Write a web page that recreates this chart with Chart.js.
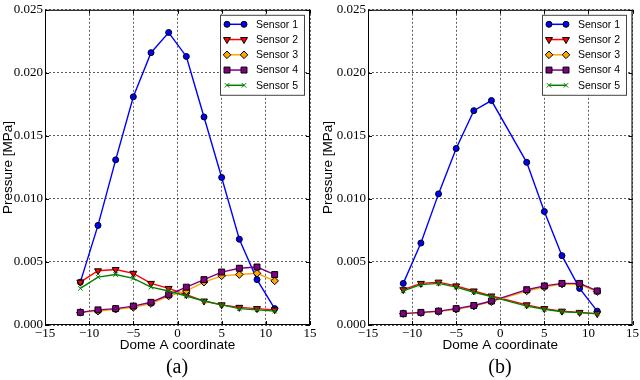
<!DOCTYPE html>
<html>
<head>
<meta charset="utf-8">
<script src="https://cdn.jsdelivr.net/npm/chart.js@4.4.0/dist/chart.umd.min.js"></script>
<style>
  body { margin: 0; background: #fff; width: 640px; height: 380px; position: relative; overflow: hidden; }
  canvas { position: absolute; top: 0; }
  .cap { position: absolute; top: 354px; width: 100px; text-align: center; font: 20px "Liberation Serif", serif; line-height: 24px; color: #000; }
</style>
</head>
<body>
<canvas id="chartA" width="320" height="360" style="left:0"></canvas>
<canvas id="chartB" width="320" height="360" style="left:320px"></canvas>
<div class="cap" style="left:127px">(a)</div>
<div class="cap" style="left:450px">(b)</div>
<script>
// data
const sensorNames = ['Sensor 1', 'Sensor 2', 'Sensor 3', 'Sensor 4', 'Sensor 5'];
const xTicks = [-15, -10, -5, 0, 5, 10, 15];
const yTicks = [0, 0.005, 0.01, 0.015, 0.02, 0.025];

const xA = [-11, -9, -7, -5, -3, -1, 1, 3, 5, 7, 9, 11];
const a1 = [0.0034, 0.0079, 0.0131, 0.0181, 0.0216, 0.0232, 0.0213, 0.0165, 0.0117, 0.0068, 0.0036, 0.0013];
const a2 = [0.0034, 0.0043, 0.0044, 0.0041, 0.0033, 0.0029, 0.0024, 0.0019, 0.0016, 0.0014, 0.0013, 0.0012];
const a3 = [0.0010, 0.0011, 0.00125, 0.0014, 0.0017, 0.0023, 0.0027, 0.0034, 0.0039, 0.0040, 0.0041, 0.0035];
const a4 = [0.0010, 0.0012, 0.0013, 0.0015, 0.0018, 0.0024, 0.0030, 0.0036, 0.0042, 0.0045, 0.0046, 0.0040];
const a5 = [0.0029, 0.0038, 0.0040, 0.0037, 0.0030, 0.0027, 0.0023, 0.0019, 0.0016, 0.0013, 0.0012, 0.0011];

const xB = [-11, -9, -7, -5, -3, -1, 3, 5, 7, 9, 11];
const b1 = [0.0033, 0.0065, 0.0104, 0.0140, 0.0170, 0.0178, 0.0129, 0.0090, 0.0055, 0.0029, 0.0011];
const b2 = [0.0028, 0.0033, 0.0034, 0.0031, 0.0027, 0.0023, 0.0016, 0.0013, 0.0011, 0.0010, 0.0009];
const b3 = [0.0009, 0.00097, 0.00107, 0.00125, 0.0015, 0.00185, 0.0027, 0.0030, 0.00325, 0.0032, 0.00265];
const b4 = [0.0009, 0.0010, 0.0011, 0.0013, 0.00155, 0.0019, 0.0028, 0.0031, 0.0033, 0.0033, 0.0027];
const b5 = [0.0027, 0.0032, 0.0033, 0.0030, 0.0026, 0.00225, 0.0015, 0.00125, 0.00105, 0.00098, 0.00088];

const styles = [
  { color: '#0000ff', point: 'circle', rot: 0, r: 3 },
  { color: '#ff0000', point: 'triangle', rot: 180, r: 4 },
  { color: '#ffa500', point: 'rectRot', rot: 0, r: 3.8 },
  { color: '#800080', point: 'rect', rot: 0, r: 4.2 },
  { color: '#008000', point: 'crossRot', rot: 0, r: 3.2 }
];

function drawMarker(ctx, s, x, y) {
  const r = s.r;
  ctx.save();
  ctx.fillStyle = s.color;
  ctx.strokeStyle = s.point === 'crossRot' ? s.color : '#000';
  ctx.lineWidth = 1;
  ctx.beginPath();
  if (s.point === 'circle') {
    ctx.arc(x, y, r, 0, Math.PI * 2);
  } else if (s.point === 'triangle') {
    ctx.moveTo(x - r * 0.87, y - r * 0.5);
    ctx.lineTo(x + r * 0.87, y - r * 0.5);
    ctx.lineTo(x, y + r);
    ctx.closePath();
  } else if (s.point === 'rectRot') {
    ctx.moveTo(x, y - r); ctx.lineTo(x + r, y); ctx.lineTo(x, y + r); ctx.lineTo(x - r, y);
    ctx.closePath();
  } else if (s.point === 'rect') {
    const h = r * Math.SQRT1_2;
    ctx.rect(x - h, y - h, 2 * h, 2 * h);
  } else {
    const h = r * Math.SQRT1_2;
    ctx.moveTo(x - h, y - h); ctx.lineTo(x + h, y + h);
    ctx.moveTo(x + h, y - h); ctx.lineTo(x - h, y + h);
    ctx.stroke();
    ctx.restore();
    return;
  }
  ctx.fill();
  ctx.stroke();
  ctx.restore();
}

// box around the axes with inward ticks, like matplotlib
const framePlugin = {
  id: 'frame',
  afterDatasetsDraw(chart) {
    const ctx = chart.ctx;
    const { left, top, right, bottom } = chart.chartArea;
    ctx.save();
    ctx.strokeStyle = '#000';
    ctx.lineWidth = 1;
    ctx.strokeRect(left + 0.5, top + 0.5, right - left - 1, bottom - top - 1);
    ctx.beginPath();
    xTicks.forEach(v => {
      const px = Math.round(chart.scales.x.getPixelForValue(v)) + 0.5;
      ctx.moveTo(px, bottom); ctx.lineTo(px, bottom - 4);
      ctx.moveTo(px, top); ctx.lineTo(px, top + 4);
    });
    yTicks.forEach(v => {
      const py = Math.round(chart.scales.y.getPixelForValue(v)) + 0.5;
      ctx.moveTo(left, py); ctx.lineTo(left + 4, py);
      ctx.moveTo(right, py); ctx.lineTo(right - 4, py);
    });
    ctx.stroke();
    ctx.restore();
  }
};

const legendPlugin = {
  id: 'boxLegend',
  afterDraw(chart, args, opts) {
    const ctx = chart.ctx;
    const area = chart.chartArea;
    ctx.save();
    ctx.font = '10.5px "Liberation Sans", Arial, sans-serif';
    const textW = Math.max(...sensorNames.map(n => ctx.measureText(n).width));
    const boxW = 36 + textW + 6;
    const boxH = 80;
    const bx = Math.round(area.right - opts.inset - boxW);
    const by = area.top + 5;
    ctx.fillStyle = '#fff';
    ctx.fillRect(bx, by, boxW, boxH);
    ctx.strokeStyle = '#444';
    ctx.lineWidth = 1;
    ctx.strokeRect(bx + 0.5, by + 0.5, Math.round(boxW), boxH);
    chart.data.datasets.forEach((ds, i) => {
      const s = styles[i];
      const y = by + 9.5 + i * 15.25;
      const x0 = bx + 7, x1 = bx + 24;
      ctx.strokeStyle = s.color;
      ctx.lineWidth = 1.5;
      ctx.beginPath();
      ctx.moveTo(x0, y); ctx.lineTo(x1, y);
      ctx.stroke();
      drawMarker(ctx, s, x0, y);
      drawMarker(ctx, s, x1, y);
      ctx.fillStyle = '#000';
      ctx.font = '10.5px "Liberation Sans", Arial, sans-serif';
      ctx.textBaseline = 'middle';
      ctx.textAlign = 'left';
      ctx.fillText(ds.label, bx + 36, y + 0.5);
    });
    ctx.restore();
  }
};

function makeChart(id, xs, series, yWidth, padRight) {
  const datasets = series.map((vals, i) => ({
    label: sensorNames[i],
    data: vals.map((v, k) => ({ x: xs[k], y: v })),
    borderColor: styles[i].color,
    backgroundColor: styles[i].color,
    borderWidth: 1.4,
    pointStyle: styles[i].point,
    pointRotation: styles[i].rot,
    pointRadius: styles[i].r,
    pointBackgroundColor: styles[i].color,
    pointBorderColor: styles[i].point === 'crossRot' ? styles[i].color : '#000',
    pointBorderWidth: 1,
    order: 5 - i,
    tension: 0
  }));

  return new Chart(document.getElementById(id), {
    type: 'line',
    data: { datasets: datasets },
    options: {
      responsive: false,
      animation: false,
      events: [],
      layout: { padding: { top: 5, right: padRight, bottom: 7, left: 0 } },
      plugins: {
        legend: { display: false },
        tooltip: { enabled: false },
        boxLegend: { inset: 6 }
      },
      scales: {
        x: {
          type: 'linear',
          min: -15,
          max: 15,
          afterBuildTicks: axis => { axis.ticks = xTicks.map(v => ({ value: v })); },
          afterFit: axis => { axis.height = 28; },
          border: { display: false, dash: [2, 2] },
          grid: { color: 'rgba(0,0,0,0.8)', lineWidth: 0.8, drawTicks: false },
          ticks: {
            padding: 1,
            color: '#000',
            maxRotation: 0,
            font: { family: '"Liberation Serif", serif', size: 13 },
            callback: v => (v < 0 ? '\u2212' + Math.abs(v) : String(v))
          },
          title: {
            display: true,
            text: 'Dome A coordinate',
            color: '#000',
            padding: 0,
            font: { family: '"Liberation Sans", Arial, sans-serif', size: 13.5 }
          }
        },
        y: {
          min: 0,
          max: 0.025,
          afterBuildTicks: axis => { axis.ticks = yTicks.map(v => ({ value: v })); },
          afterFit: axis => { axis.width = yWidth; },
          border: { display: false, dash: [2, 2] },
          grid: { color: 'rgba(0,0,0,0.8)', lineWidth: 0.8, drawTicks: false },
          ticks: {
            padding: 2,
            color: '#000',
            font: { family: '"Liberation Serif", serif', size: 13 },
            callback: v => v.toFixed(3)
          },
          title: {
            display: true,
            text: 'Pressure [MPa]',
            color: '#000',
            padding: { top: 0, bottom: 0, left: 2 },
            font: { family: '"Liberation Sans", Arial, sans-serif', size: 13.5 }
          }
        }
      }
    },
    plugins: [framePlugin, legendPlugin]
  });
}

makeChart('chartA', xA, [a1, a2, a3, a4, a5], 45, 10);
makeChart('chartB', xB, [b1, b2, b3, b4, b5], 48, 7);
</script>
</body>
</html>
